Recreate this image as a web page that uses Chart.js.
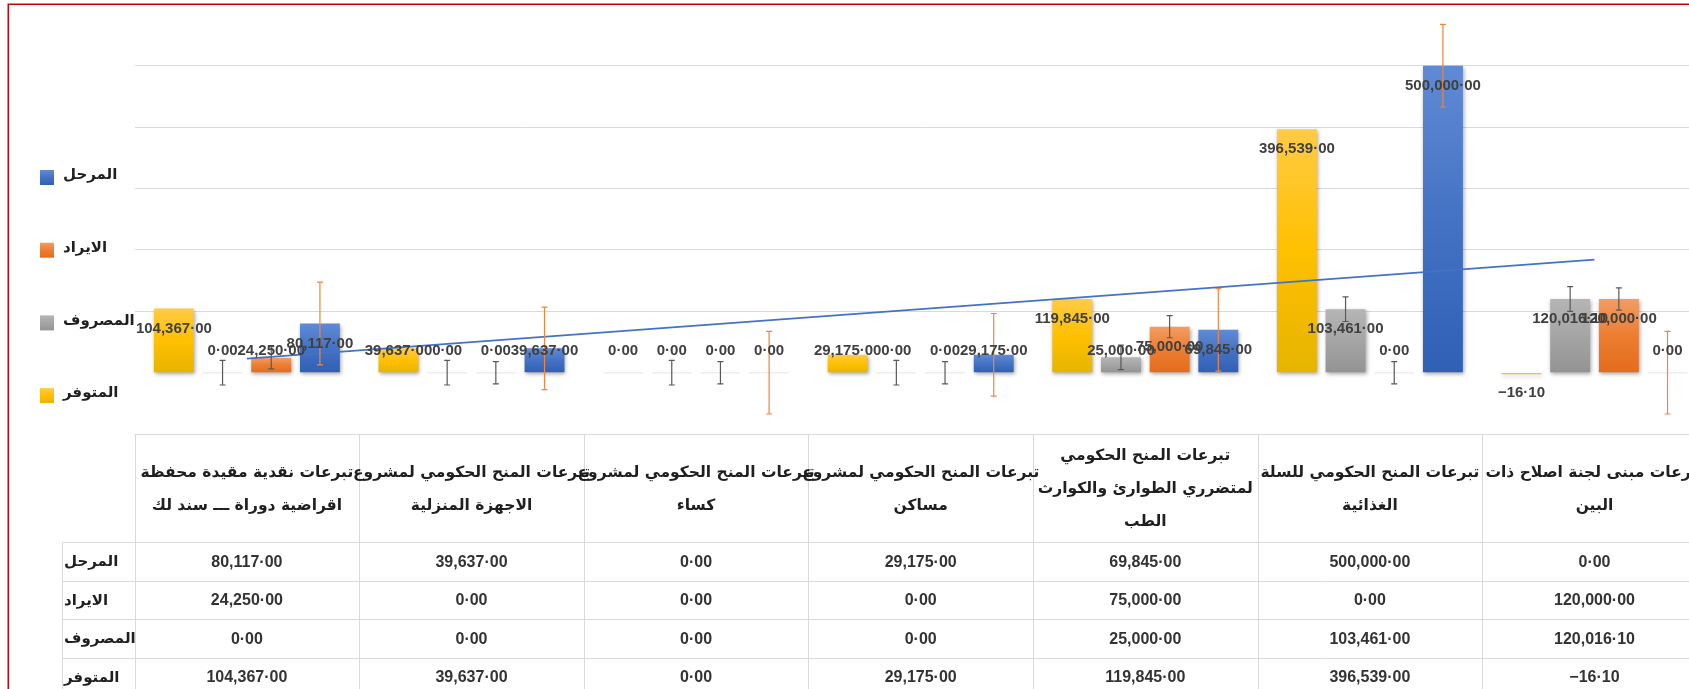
<!DOCTYPE html>
<html>
<head>
<meta charset="utf-8">
<script src="https://cdn.jsdelivr.net/npm/chart.js@4/dist/chart.umd.min.js"></script>
<style>
  html, body { margin: 0; padding: 0; background: #fff; overflow: hidden; }
  #wrap { position: absolute; left: 0; top: 0; width: 1740px; height: 720px; }
</style>
</head>
<body>
<div id="wrap"><canvas id="chart" width="1740" height="720"></canvas></div>
<script>
// header text of each category, as it is wrapped in the data table
const categoryLines = [
  ['تبرعات نقدية مقيدة محفظة', 'اقراضية دوراة ـــ سند لك'],
  ['تبرعات المنح الحكومي لمشروع', 'الاجهزة المنزلية'],
  ['تبرعات المنح الحكومي لمشروع', 'كساء'],
  ['تبرعات المنح الحكومي لمشروع', 'مساكن'],
  ['تبرعات المنح الحكومي', 'لمتضرري الطوارئ والكوارث', 'الطب'],
  ['تبرعات المنح الحكومي للسلة', 'الغذائية'],
  ['تبرعات مبنى لجنة اصلاح ذات', 'البين']
];
const categories = categoryLines.map(l => l.join(' '));

const available = [104367, 39637, 0, 29175, 119845, 396539, -16.10]; // المتوفر
const spent     = [0, 0, 0, 0, 25000, 103461, 120016.10];             // المصروف
const income    = [24250, 0, 0, 0, 75000, 0, 120000];                 // الايراد
const carried   = [80117, 39637, 0, 29175, 69845, 500000, 0];         // المرحل

// linear trendline of المرحل, ends
const trendEnds = [23000, 184000];

// Excel "standard error" bars
function standardError(vals) {
  const n = vals.length;
  const mean = vals.reduce((a, b) => a + b, 0) / n;
  const ss = vals.reduce((a, v) => a + (v - mean) * (v - mean), 0);
  return Math.sqrt(ss / (n - 1)) / Math.sqrt(n);
}

const palette = {
  yellow: ['#FFCB45', '#FFC000', '#E6B400'],
  gray:   ['#B5B5B5', '#A5A5A5', '#939393'],
  orange: ['#F39C63', '#ED7D31', '#E36C1C'],
  blue:   ['#608AD4', '#4472C4', '#2F60B6']
};

function gradient(ctx, stops, y0, y1) {
  const g = ctx.createLinearGradient(0, y0, 0, y1);
  g.addColorStop(0, stops[0]);
  g.addColorStop(0.5, stops[1]);
  g.addColorStop(1, stops[2]);
  return g;
}

function barFill(stops) {
  return function (c) {
    if (c.type !== 'data') return stops[1];
    const v = c.raw;
    if (v === 0) return 'rgba(0,0,0,0.07)';
    const y = c.chart.scales.y;
    if (!y) return stops[1];
    const top = y.getPixelForValue(Math.max(v, 0));
    const bot = y.getPixelForValue(Math.min(v, 0));
    if (!isFinite(top) || !isFinite(bot)) return stops[1];
    if (bot - top < 2) return stops[2];
    return gradient(c.chart.ctx, stops, top, bot);
  };
}

// numbers as shown: thousands comma, raised dot before the decimals
function fmt(v) {
  const parts = Math.abs(v).toFixed(2).split('.');
  const whole = parts[0].replace(/\B(?=(\d{3})+(?!\d))/g, ',');
  return (v < 0 ? '\u2212' : '') + whole + '\u00B7' + parts[1];
}

const series = [
  { label: 'المتوفر', data: available, colors: palette.yellow, err: null, errColor: null },
  { label: 'المصروف', data: spent, colors: palette.gray, err: standardError(spent), errColor: '#595959' },
  { label: 'الايراد', data: income, colors: palette.orange, err: standardError(income), errColor: '#595959' },
  { label: 'المرحل', data: carried, colors: palette.blue, err: standardError(carried), errColor: '#EE8540' }
];

const barShadow = {
  id: 'barShadow',
  beforeDatasetDraw(chart, args) {
    if (args.meta.type !== 'bar') return;
    const ctx = chart.ctx;
    ctx.save();
    ctx.shadowColor = 'rgba(0,0,0,0.35)';
    ctx.shadowBlur = 4;
    ctx.shadowOffsetX = 1;
    ctx.shadowOffsetY = 2;
  },
  afterDatasetDraw(chart, args) {
    if (args.meta.type !== 'bar') return;
    chart.ctx.restore();
  }
};

const errorsAndLabels = {
  id: 'errorsAndLabels',
  afterDatasetsDraw(chart) {
    const ctx = chart.ctx;
    const y = chart.scales.y;
    const base = y.getPixelForValue(0);
    // error bars
    series.forEach((s, di) => {
      if (!s.err) return;
      const meta = chart.getDatasetMeta(di);
      ctx.save();
      ctx.strokeStyle = s.errColor;
      ctx.lineWidth = 1.2;
      meta.data.forEach((el, i) => {
        const v = s.data[i];
        const yt = y.getPixelForValue(v + s.err);
        const yb = y.getPixelForValue(v - s.err);
        ctx.beginPath();
        ctx.moveTo(el.x, yt); ctx.lineTo(el.x, yb);
        ctx.moveTo(el.x - 3, yt); ctx.lineTo(el.x + 3, yt);
        ctx.moveTo(el.x - 3, yb); ctx.lineTo(el.x + 3, yb);
        ctx.stroke();
      });
      ctx.restore();
    });
    // data labels
    ctx.save();
    ctx.font = 'bold 15px "Liberation Sans", "DejaVu Sans", sans-serif';
    ctx.fillStyle = '#404040';
    ctx.textAlign = 'center';
    ctx.textBaseline = 'middle';
    series.forEach((s, di) => {
      const meta = chart.getDatasetMeta(di);
      meta.data.forEach((el, i) => {
        const v = s.data[i];
        let ly;
        if (v < 0) ly = y.getPixelForValue(v) + 20;
        else ly = Math.min(y.getPixelForValue(v) + 20, base - 21.7);
        ctx.fillText(fmt(v), el.x, ly);
      });
    });
    ctx.restore();
  }
};

const dataTable = {
  id: 'dataTable',
  afterDraw(chart) {
    const ctx = chart.ctx;
    const area = chart.chartArea;
    const W = chart.width, H = chart.height;
    const n = categories.length;
    const colW = (area.right - area.left) / n;
    const top = area.bottom;
    const headBottom = top + 108;
    const rowH = 38.5;
    const rowLeft = 62.5;
    const rows = series.slice().reverse();

    ctx.save();
    ctx.strokeStyle = '#d9d9d9';
    ctx.lineWidth = 1;
    ctx.beginPath();
    ctx.moveTo(area.left, top + 0.5); ctx.lineTo(W, top + 0.5);
    for (let k = 0; k <= rows.length; k++) {
      const yy = Math.round(headBottom + k * rowH) + 0.5;
      ctx.moveTo(rowLeft, yy); ctx.lineTo(W, yy);
    }
    for (let i = 0; i <= n; i++) {
      const xx = Math.round(area.left + i * colW) + 0.5;
      ctx.moveTo(xx, top); ctx.lineTo(xx, H);
    }
    ctx.moveTo(rowLeft, headBottom); ctx.lineTo(rowLeft, H);
    ctx.stroke();

    // header
    ctx.fillStyle = '#1f1f1f';
    ctx.textAlign = 'center';
    ctx.textBaseline = 'middle';
    ctx.direction = 'rtl';
    ctx.font = 'bold 15.5px "DejaVu Sans", sans-serif';
    const lineH = 33;
    categoryLines.forEach((lines, i) => {
      const cx = chart.scales.x.getPixelForValue(i);
      const cy = (top + headBottom) / 2 + 1;
      const y0 = cy - (lines.length - 1) * lineH / 2;
      lines.forEach((t, j) => ctx.fillText(t, cx, y0 + j * lineH));
    });

    // row names and values
    rows.forEach((s, k) => {
      const cy = headBottom + rowH * (k + 0.5) + 1;
      ctx.direction = 'rtl';
      ctx.textAlign = 'left';
      ctx.font = 'bold 15px "DejaVu Sans", sans-serif';
      ctx.fillStyle = '#1f1f1f';
      ctx.fillText(s.label, 64, cy);
      ctx.direction = 'ltr';
      ctx.textAlign = 'center';
      ctx.font = 'bold 16px "Liberation Sans", "DejaVu Sans", sans-serif';
      ctx.fillStyle = '#333333';
      s.data.forEach((v, i) => ctx.fillText(fmt(v), chart.scales.x.getPixelForValue(i), cy));
    });

    // legend on the left
    rows.forEach((s, k) => {
      const sy = 170 + k * 72.7;
      ctx.fillStyle = gradient(ctx, s.colors, sy, sy + 15);
      ctx.fillRect(40, sy, 14, 15);
      ctx.direction = 'rtl';
      ctx.textAlign = 'left';
      ctx.font = 'bold 15px "DejaVu Sans", sans-serif';
      ctx.fillStyle = '#1f1f1f';
      ctx.fillText(s.label, 63, sy + 5.5);
    });

    // chart frame
    ctx.strokeStyle = '#cc0000';
    ctx.lineWidth = 1.5;
    ctx.beginPath();
    ctx.moveTo(8.25, H); ctx.lineTo(8.25, 4.25); ctx.lineTo(W, 4.25);
    ctx.stroke();
    ctx.restore();
  }
};

const datasets = series.map(s => ({
  type: 'bar',
  label: s.label,
  data: s.data,
  backgroundColor: barFill(s.colors),
  borderWidth: 0,
  minBarLength: 1.5,
  categoryPercentage: 0.867,
  barPercentage: 0.82
}));
datasets.push({
  type: 'line',
  label: 'trend',
  data: [trendEnds[0], null, null, null, null, null, trendEnds[1]],
  spanGaps: true,
  borderColor: '#4472C4',
  borderWidth: 1.75,
  pointRadius: 0,
  fill: false,
  order: -1
});

const ctx = document.getElementById('chart').getContext('2d');
const myChart = new Chart(ctx, {
  type: 'bar',
  data: { labels: categories, datasets: datasets },
  options: {
    responsive: false,
    animation: false,
    events: [],
    layout: { padding: { left: 134.6, right: 33.2, top: 4.3, bottom: 285.9 } },
    plugins: { legend: { display: false }, tooltip: { enabled: false } },
    scales: {
      x: { display: false },
      y: {
        min: -100000,
        max: 600000,
        ticks: { display: false, stepSize: 100000 },
        border: { display: false },
        grid: {
          drawTicks: false,
          color: c => (c.tick && c.tick.value > 0 && c.tick.value < 600000) ? '#d9d9d9' : 'rgba(0,0,0,0)'
        },
        afterFit: s => { s.width = 0; }
      }
    }
  },
  plugins: [barShadow, errorsAndLabels, dataTable]
});
</script>
</body>
</html>
